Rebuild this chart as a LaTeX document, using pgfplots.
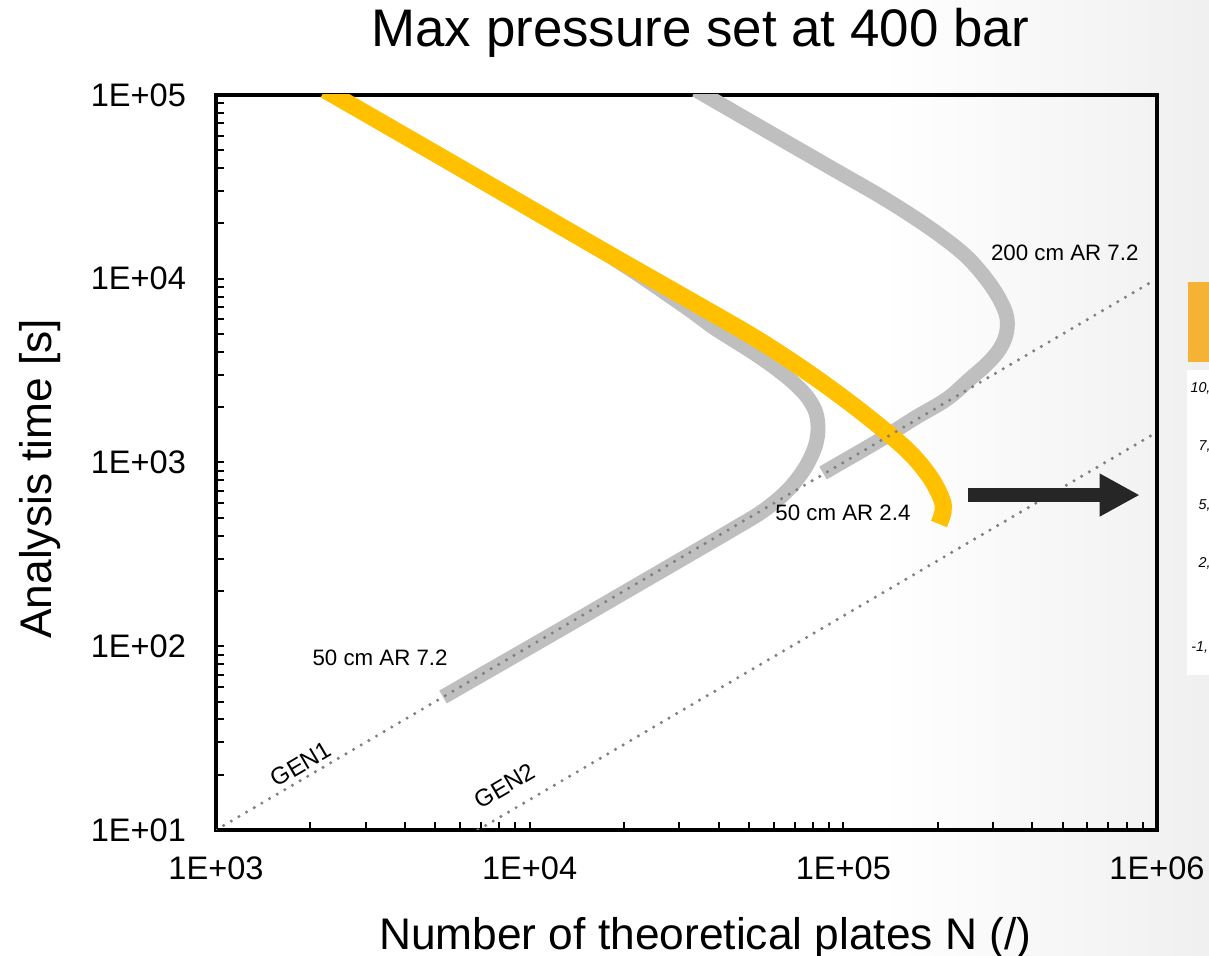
\documentclass[border=0pt]{standalone}
\usepackage{pgfplots}
\pgfplotsset{compat=1.18}
\usepackage{fontspec}
\setmainfont{Liberation Sans}
\usetikzlibrary{arrows.meta}

\definecolor{curveY}{HTML}{FFC000}
\definecolor{bandG}{HTML}{BFBFBF}
\definecolor{dotG}{HTML}{808080}
\definecolor{arrowK}{HTML}{262626}
\definecolor{tabO}{HTML}{F5B335}

\begin{document}
\begin{tikzpicture}[x=1pt,y=1pt]
\useasboundingbox (-75.6,-44.1) rectangle (347.55,290.5);
\clip (-75.6,-44.1) rectangle (347.55,290.5);
% slide background fading to light grey on the right
\shade[left color=white, right color=black!6] (232,-44.1) rectangle (347.55,290.5);
% edge of the neighbouring table
\fill[white] (339.85,54.25) rectangle (352,161);
\fill[tabO] (340.2,163.8) rectangle (352,191.8);
\begin{scope}[font=\fontsize{5}{6}\selectfont\itshape]
  \node[anchor=west,inner sep=0] at (340.9,154.7) {10,};
  \node[anchor=west,inner sep=0] at (343.7,134.05) {7,};
  \node[anchor=west,inner sep=0] at (343.7,113.4) {5,};
  \node[anchor=west,inner sep=0] at (343.7,93.45) {2,};
  \node[anchor=west,inner sep=0] at (341.2,63.7) {-1,};
\end{scope}

\begin{axis}[
  scale only axis, width=329.35pt, height=257.25pt,
  xmode=log, ymode=log,
  xmin=1e3, xmax=1e6, ymin=1e1, ymax=1e5,
  axis line style={line width=1.4pt},
  xtick={1e3,1e4,1e5,1e6}, xticklabels={1E+03,1E+04,1E+05,1E+06},
  ytick={1e1,1e2,1e3,1e4,1e5}, yticklabels={1E+01,1E+02,1E+03,1E+04,1E+05},
  tick pos=left, tick align=inside,
  major tick length=2.8pt, minor tick length=2.8pt,
  every tick/.style={line width=0.7pt, black},
  ticklabel style={font=\fontsize{11.4}{13}\selectfont},
  xticklabel style={yshift=-5.75pt},
  yticklabel style={xshift=-7pt},
  title={Max pressure set at 400 bar},
  title style={at={(axis description cs:0.515,1.061)}, anchor=center, font=\fontsize{18.5}{22}\selectfont},
  xlabel={Number of theoretical plates N (/)},
  xlabel style={at={(axis description cs:0.52,-0.147)}, anchor=center, font=\fontsize{15.5}{18}\selectfont},
  ylabel={Analysis time [s]},
  ylabel style={at={(axis description cs:-0.187,0.478)}, anchor=center, font=\fontsize{15.5}{18}\selectfont},
  clip=true,
]
% 50 cm AR 7.2
\addplot[bandG, line width=5.2pt, line cap=butt, smooth, tension=0.55] coordinates {
  (5292,52.95) (12773,125.7) (26620,260.0) (43530,423.9) (55450,544.7) (66620,708.7)
  (75480,933.4) (81220,1214) (83030,1503) (81830,1859) (77170,2244) (70150,2674)
  (61900,3187) (53060,3846) (45150,4584) (38420,5463) (30150,7379) (16760,14340)
  (5572,42650) (2226,106000)
};
% 200 cm AR 7.2
\addplot[bandG, line width=5.2pt, line cap=butt, smooth, tension=0.55] coordinates {
  (86130,876.9) (130900,1326) (169200,1747) (214000,2216) (253400,2848) (287100,3437)
  (313600,4095) (330100,4942) (332500,6114) (315900,7662) (287100,9844) (249700,12970)
  (210900,16460) (169200,21410) (130900,28200) (92700,39570) (57090,63700) (33900,106500)
};
% 50 cm AR 2.4
\addplot[curveY, line width=6pt, line cap=butt, smooth, tension=0.55] coordinates {
  (2226,106500) (5572,43190) (16760,14520) (34910,7107) (54260,4584) (80050,2956)
  (115540,1859) (159600,1170) (188900,834) (206300,625) (207800,538) (201800,463)
};
% GEN1 and GEN2 reference lines
\addplot[dotG, line width=1.2pt, line cap=round, dash pattern=on 0pt off 3.1pt] coordinates {
  (1000,10) (970000,9700)
};
\addplot[dotG, line width=1.2pt, line cap=round, dash pattern=on 0pt off 3.1pt] coordinates {
  (6840,10) (971000,1420)
};
\begin{scope}[font=\fontsize{7.8}{9}\selectfont]
  \node at (axis cs:508000,13800) {200 cm AR 7.2};
  \node at (axis cs:99700,531) {50 cm AR 2.4};
  \node at (axis cs:3335,86.3) {50 cm AR 7.2};
\end{scope}
\begin{scope}[font=\fontsize{8.4}{10}\selectfont]
  \node[rotate=30.4] at (axis cs:1866,22.8) {GEN1};
  \node[rotate=30.4] at (axis cs:8340,17.4) {GEN2};
\end{scope}
\draw[arrowK, line width=4.6pt, -{Triangle[length=14pt,width=14pt]}]
  (axis cs:249500,665) -- (axis cs:881000,665);
\end{axis}
\end{tikzpicture}
\end{document}
